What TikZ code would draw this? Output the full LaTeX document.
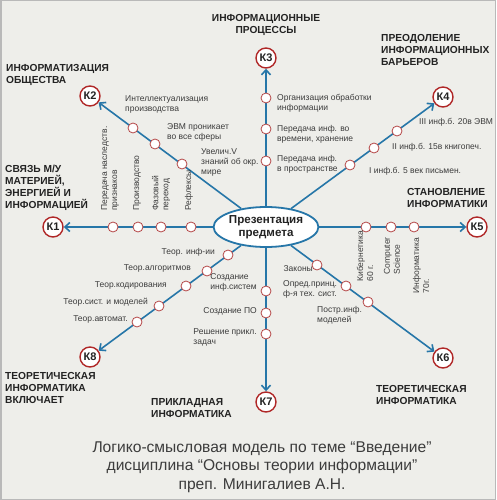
\documentclass[tikz,border=0pt]{standalone}
\usepackage{fontspec}
\setmainfont{Liberation Sans}
\usetikzlibrary{arrows.meta,shapes.geometric}

\definecolor{bgcol}{RGB}{238,238,234}
\definecolor{linecol}{RGB}{38,118,168}
\definecolor{kred}{RGB}{176,40,40}
\definecolor{stcol}{RGB}{180,70,70}
\definecolor{txtcol}{RGB}{60,60,60}
\definecolor{headcol}{RGB}{35,35,35}

\tikzset{
  conn/.style={draw=linecol,line width=1.6pt,-{Straight Barb[length=5pt,width=9pt]}},
  knode/.style={circle,draw=kred,fill=white,line width=1.4pt,minimum size=20pt,inner sep=0pt,text=headcol,font=\bfseries\fontsize{11}{12}\selectfont},
  station/.style={circle,draw=stcol,fill=white,line width=0.8pt,minimum size=10pt,inner sep=0pt},
  lbl/.style={inner sep=0pt,text=txtcol,align=left,font=\fontsize{8.5}{10}\selectfont},
  head/.style={inner sep=0pt,text=headcol,align=left,font=\bfseries\fontsize{10.2}{12}\selectfont},
}

\begin{document}
\begin{tikzpicture}[x=1pt,y=1pt,yscale=-1]
    \useasboundingbox (0,0) rectangle (496,500);
    %Shape: Background
    \fill[bgcol,draw=gray!55,line width=1.5pt] (0.75,0.75) rectangle (495.25,499.25);

    %Shape: Centre
    \node[ellipse,draw=linecol,line width=1.8pt,fill=white,minimum width=88pt,minimum height=40pt,inner sep=0pt,align=center,text=headcol,font=\bfseries\fontsize{11.6}{13}\selectfont] (pres) at (266,227) {Презентация\\предмета};
    %Shape: End circles
    \node[knode] (k1) at (53,227) {К1};
    \node[knode] (k2) at (90,96) {К2};
    \node[knode] (k3) at (266,58) {К3};
    \node[knode] (k4) at (443,97) {К4};
    \node[knode] (k5) at (477,227) {К5};
    \node[knode] (k6) at (443,358) {К6};
    \node[knode] (k7) at (266,402) {К7};
    \node[knode] (k8) at (90,357) {К8};

    %Shape: Lines
    \foreach \k in {1,...,8}
        \draw[conn] (pres) -- (k\k);

    %Shape: Stations
    \node[station] (s11) at (113,227) {};
    \node[station] (s12) at (138,227) {};
    \node[station] (s13) at (161,227) {};
    \node[station] (s14) at (191,227) {};
    \node[station] (s21) at (133,128) {};
    \node[station] (s22) at (155,144) {};
    \node[station] (s23) at (182,164) {};
    \node[station] (s31) at (266,98) {};
    \node[station] (s32) at (266,129) {};
    \node[station] (s33) at (266,161) {};
    \node[station] (s41) at (350,165) {};
    \node[station] (s42) at (374,148) {};
    \node[station] (s43) at (397,131) {};
    \node[station] (s51) at (366,227) {};
    \node[station] (s52) at (391,227) {};
    \node[station] (s53) at (414,227) {};
    \node[station] (s61) at (317,265) {};
    \node[station] (s62) at (346,286) {};
    \node[station] (s63) at (368,302) {};
    \node[station] (s71) at (266,291) {};
    \node[station] (s72) at (266,313) {};
    \node[station] (s73) at (266,334) {};
    \node[station] (s81) at (228,255) {};
    \node[station] (s82) at (207,271) {};
    \node[station] (s83) at (186,286) {};
    \node[station] (s84) at (159,306) {};
    \node[station] (s85) at (137,322) {};

    % Text Node
    \node[lbl,rotate=90,anchor=west] (l11) at (110,211) {Передача наследств.\\признаков};
    \node[lbl,rotate=90,anchor=west] (l12) at (137,211) {Производство};
    \node[lbl,rotate=90,anchor=west] (l13) at (161,211) {Фазовый\\переход};
    \node[lbl,rotate=90,anchor=west] (l14) at (189,211) {Рефлексы};
    % Text Node
    \node[lbl,anchor=west] (l21) at (125,104) {Интеллектуализация\\производства};
    \node[lbl,anchor=west] (l22) at (167,132) {ЭВМ проникает\\во все сферы};
    \node[lbl,anchor=west] (l23) at (201,162) {Увелич.V\\знаний об окр.\\мире};
    % Text Node
    \node[lbl,anchor=west] (l31) at (277,103) {Организация обработки\\информации};
    \node[lbl,anchor=west] (l32) at (277,134) {Передача инф. во\\времени, хранение};
    \node[lbl,anchor=west] (l33) at (277,164) {Передача инф.\\в пространстве};
    % Text Node
    \node[lbl,anchor=west] (l43) at (419,122) {III инф.б. 20в ЭВМ};
    \node[lbl,anchor=west] (l42) at (392,147) {II инф.б. 15в книгопеч.};
    \node[lbl,anchor=west] (l41) at (369,171) {I инф.б. 5 век письмен.};
    % Text Node
    \node[lbl,rotate=90,anchor=east] (l51) at (365,231) {Кибернетика\\60 г.};
    \node[lbl,rotate=90,anchor=east] (l52) at (392,237) {Computer\\Science};
    \node[lbl,rotate=90,anchor=east] (l53) at (421,238) {Информатика\\70г.};
    % Text Node
    \node[lbl,anchor=east] (l61) at (313,269) {Законы};
    \node[lbl,anchor=west] (l62) at (283,289) {Опред.принц.\\ф-я тех. сист.};
    \node[lbl,anchor=west] (l63) at (317,315) {Постр.инф.\\моделей};
    % Text Node
    \node[lbl,anchor=east] (l71) at (257,282) {Создание\\инф.систем};
    \node[lbl,anchor=east] (l72) at (257,311) {Создание ПО};
    \node[lbl,anchor=east] (l73) at (257,337) {Решение прикл.\\задач};
    % Text Node
    \node[lbl,anchor=east] (l81) at (215,252) {Теор. инф-ии};
    \node[lbl,anchor=east] (l82) at (191,268) {Теор.алгоритмов};
    \node[lbl,anchor=east] (l83) at (167,285) {Теор.кодирования};
    \node[lbl,anchor=east] (l84) at (148,302) {Теор.сист. и моделей};
    \node[lbl,anchor=east] (l85) at (128,319) {Теор.автомат.};

    % Headings
    \node[head,anchor=west] (t1) at (5,188) {СВЯЗЬ М/У\\МАТЕРИЕЙ,\\ЭНЕРГИЕЙ И\\ИНФОРМАЦИЕЙ};
    \node[head,anchor=west] (t2) at (6,75) {ИНФОРМАТИЗАЦИЯ\\ОБЩЕСТВА};
    \node[head,align=center] (t3) at (266,25) {ИНФОРМАЦИОННЫЕ\\ПРОЦЕССЫ};
    \node[head,anchor=west] (t4) at (381,50) {ПРЕОДОЛЕНИЕ\\ИНФОРМАЦИОННЫХ\\БАРЬЕРОВ};
    \node[head,anchor=west] (t5) at (407,198) {СТАНОВЛЕНИЕ\\ИНФОРМАТИКИ};
    \node[head,anchor=west] (t6) at (376,395) {ТЕОРЕТИЧЕСКАЯ\\ИНФОРМАТИКА};
    \node[head,anchor=west] (t7) at (151,408) {ПРИКЛАДНАЯ\\ИНФОРМАТИКА};
    \node[head,anchor=west] (t8) at (5,388) {ТЕОРЕТИЧЕСКАЯ\\ИНФОРМАТИКА\\ВКЛЮЧАЕТ};

    % Caption
    \node[align=center,inner sep=0pt,text=txtcol,font=\fontsize{15.6}{18.5}\selectfont] (capt) at (262,467) {Логико-смысловая модель по теме “Введение”\\дисциплина “Основы теории информации”\\преп. Минигалиев А.Н.};
\end{tikzpicture}
\end{document}
